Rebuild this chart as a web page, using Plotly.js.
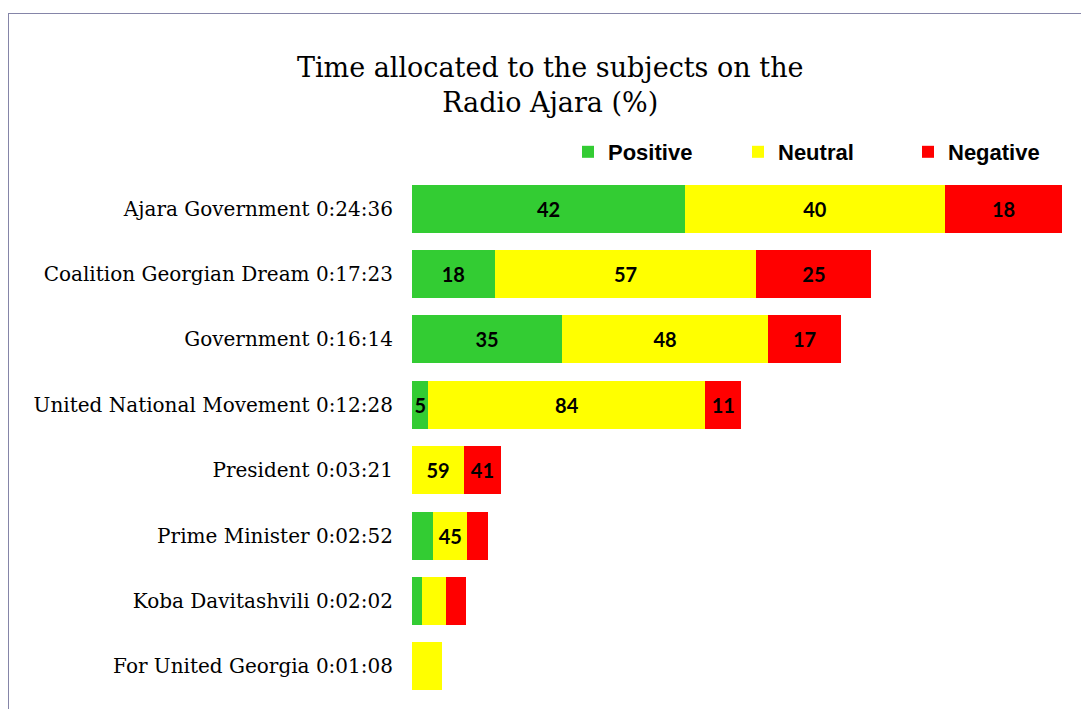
<!DOCTYPE html>
<html><head><meta charset="utf-8">
<script src="https://cdn.plot.ly/plotly-3.0.1.min.js"></script>
<style>
html,body{margin:0;padding:0;background:#fff;overflow:hidden;}
#frame{position:absolute;left:8px;top:13px;width:1200px;height:800px;border-left:1px solid #8585a8;border-top:1px solid #8585a8;}
#chart{position:absolute;left:0;top:0;width:1081px;height:709px;}
</style></head>
<body>
<div id="frame"></div>
<div id="chart"></div>
<script>
// Subjects and their total airtime
const subjects = ["Ajara Government","Coalition Georgian Dream","Government","United National Movement","President","Prime Minister","Koba Davitashvili","For United Georgia"];
const times = ["0:24:36","0:17:23","0:16:14","0:12:28","0:03:21","0:02:52","0:02:02","0:01:08"];
// Tone shares (%)
const positivePct = [42,18,35,5,0,28,19,0];
const neutralPct  = [40,57,48,84,59,45,45,100];
const negativePct = [18,25,17,11,41,27,36,0];
// Which percentages carry a visible data label
const positiveShown = [true,true,true,true,false,false,false,false];
const neutralShown  = [true,true,true,true,true,true,false,false];
const negativeShown = [true,true,true,true,true,false,false,false];

function toSec(t){const p=t.split(':').map(Number);return p[0]*3600+p[1]*60+p[2];}
const secs = times.map(toSec);
const cats = subjects.map((s,i)=>s+' '+times[i]);
const maxSec = Math.max(...secs);

function mk(name,pct,shown,color){
  return {
    type:'bar',orientation:'h',name:name,
    y:cats,
    x:pct.map((p,i)=>secs[i]*p/100),
    text:pct.map((p,i)=>shown[i]?String(p):''),
    textposition:'inside',insidetextanchor:'middle',textangle:0,constraintext:'none',
    insidetextfont:{family:'Lato, sans-serif',size:20,color:'#000',weight:'bold'},
    marker:{color:color,line:{width:0}},
    hoverinfo:'skip'
  };
}
const data=[
  mk('Positive',positivePct,positiveShown,'#33cc33'),
  mk('Neutral',neutralPct,neutralShown,'#ffff00'),
  mk('Negative',negativePct,negativeShown,'#ff0000')
];
const layout={
  width:1081,height:709,
  paper_bgcolor:'rgba(0,0,0,0)',plot_bgcolor:'rgba(0,0,0,0)',
  margin:{l:412,r:19,t:176,b:10},
  barmode:'stack',bargap:0.265,
  showlegend:true,
  title:{text:'Time allocated to the subjects on the<br>Radio Ajara (%)',
    font:{family:'DejaVu Serif, serif',size:27,color:'#000'},
    x:0.509,xref:'container',xanchor:'center',y:1-77/709,yref:'container',yanchor:'middle'},
  legend:{orientation:'h',xref:'container',yref:'container',x:568/1081,y:1-152/709,
    xanchor:'left',yanchor:'middle',entrywidth:125,entrywidthmode:'pixels',
    font:{family:'Liberation Sans, Arial, sans-serif',size:22,color:'#000',weight:'bold'},
    itemclick:false,itemdoubleclick:false,traceorder:'normal'},
  xaxis:{range:[0,maxSec],visible:false,fixedrange:true},
  yaxis:{autorange:'reversed',showgrid:false,zeroline:false,showline:false,ticks:'',
    ticklabelstandoff:18,fixedrange:true,
    tickfont:{family:'DejaVu Serif, serif',size:20,color:'#000'}},
  hovermode:false
};
Plotly.newPlot('chart',data,layout,{displayModeBar:false,staticPlot:true});
</script>
</body></html>
